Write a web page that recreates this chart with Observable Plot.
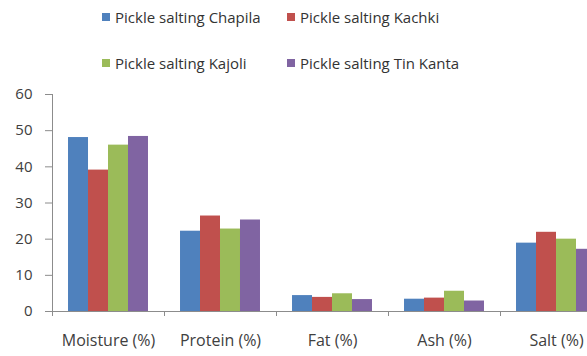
<!DOCTYPE html>
<html>
<head>
<meta charset="utf-8">
<script src="https://cdn.jsdelivr.net/npm/d3@7"></script>
<script src="https://cdn.jsdelivr.net/npm/@observablehq/plot@0.6"></script>
<style>
  html, body { margin: 0; padding: 0; background: #fff; }
  #wrap { width: 587px; height: 356px; overflow: hidden; position: relative; font-family: "Open Sans", sans-serif; }
  #legend { height: 76px; position: relative; color: #333; font-size: 15px; line-height: 20px; }
  .item { position: absolute; display: flex; align-items: center; white-space: nowrap; }
  .sw { width: 8px; height: 8px; margin-right: 5px; }
  #chart svg { max-width: none; display: block; }
</style>
</head>
<body>
<div id="wrap">
  <div id="legend"></div>
  <div id="chart"></div>
</div>
<script>
// Proximate composition of salted fish pickles
const categories = ["Moisture (%)", "Protein (%)", "Fat (%)", "Ash (%)", "Salt (%)"];
const seriesNames = ["Pickle salting Chapila", "Pickle salting Kachki", "Pickle salting Kajoli", "Pickle salting Tin Kanta"];
const chapila  = [48.1, 22.2, 4.4, 3.4, 18.9];
const kachki   = [39.1, 26.4, 3.9, 3.7, 21.9];
const kajoli   = [46.0, 22.8, 4.9, 5.6, 20.0];
const tinKanta = [48.4, 25.3, 3.3, 2.9, 17.2];
const yTicks = [0, 10, 20, 30, 40, 50, 60];

const colors = ["#4F81BD", "#C0504D", "#9BBB59", "#8064A2"];
const seriesValues = [chapila, kachki, kajoli, tinKanta];

// Legend: two rows, two columns
const legend = document.getElementById("legend");
const legendPos = [[102, 7], [287, 7], [102, 53], [287, 53]];
seriesNames.forEach((name, i) => {
  const item = document.createElement("div");
  item.className = "item";
  item.style.left = legendPos[i][0] + "px";
  item.style.top = legendPos[i][1] + "px";
  item.innerHTML = `<span class="sw" style="background:${colors[i]}"></span><span>${name}</span>`;
  legend.appendChild(item);
});

// Plot area continues past the right edge of the page
const width = 630, marginLeft = 52, marginRight = 18;
const band = (width - marginLeft - marginRight) / categories.length;
const groupPad = band * 0.143;
const barW = (band - 2 * groupPad) / seriesNames.length;

const bars = seriesValues.map((vals, i) =>
  Plot.barY(categories.map((c, j) => ({category: c, value: vals[j]})), {
    x: "category",
    y: "value",
    fill: colors[i],
    insetLeft: groupPad + barW * i,
    insetRight: band - groupPad - barW * (i + 1)
  })
);

const chart = Plot.plot({
  width,
  height: 280,
  marginLeft,
  marginRight,
  marginTop: 18,
  marginBottom: 45,
  style: {fontFamily: "Open Sans, sans-serif", fontSize: "15px", color: "#404040", background: "#fff"},
  x: {domain: categories, padding: 0, label: null, axis: null},
  y: {domain: [0, 60], label: null, axis: null},
  marks: [
    ...bars,
    Plot.ruleY([0], {stroke: "#8c8c8c"}),
    // category separators on the baseline
    Plot.ruleX(categories, {x: d => d, y1: 0, y2: 0, insetBottom: -5, dx: -band / 2, stroke: "#8c8c8c"}),
    Plot.axisY(yTicks, {tickSize: 7, tickPadding: 13, stroke: "#8c8c8c", fill: "#404040", fontSize: 15, label: null}),
    Plot.ruleX([0], {x: () => categories[0], dx: -band / 2, y1: 0, y2: 60, stroke: "#8c8c8c"}),
    Plot.axisX({tickSize: 0, tickPadding: 23, fill: "#404040", fontSize: 16, label: null})
  ]
});
document.getElementById("chart").appendChild(chart);
</script>
</body>
</html>
